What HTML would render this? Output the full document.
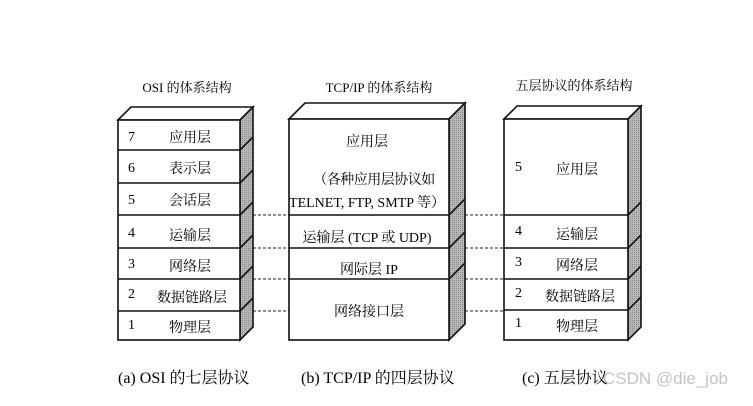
<!DOCTYPE html>
<html><head><meta charset="utf-8"><style>
body{margin:0;background:#fff}
svg text{font-family:"Liberation Serif","Noto Serif CJK SC","Noto Sans CJK SC",serif;fill:#000}
</style></head><body>
<svg width="753" height="401" viewBox="0 0 753 401" xmlns="http://www.w3.org/2000/svg">
<defs><pattern id="g" width="2" height="2" patternUnits="userSpaceOnUse"><rect width="2" height="2" fill="#b8b8b8"/><rect width="1" height="1" fill="#8a8a8a"/></pattern></defs>
<g font-size="13" text-anchor="middle">
<text x="187" y="92">OSI 的体系结构</text>
<text x="379" y="92">TCP/IP 的体系结构</text>
<text x="574" y="90">五层协议的体系结构</text>
</g>
<g stroke="#222" stroke-width="1" stroke-dasharray="3,2">
<line x1="253" y1="215" x2="289" y2="215"/><line x1="253" y1="248" x2="289" y2="248"/><line x1="253" y1="279" x2="289" y2="279"/><line x1="253" y1="311" x2="289" y2="311"/>
<line x1="465" y1="215" x2="504" y2="215"/><line x1="465" y1="248" x2="504" y2="248"/><line x1="465" y1="279" x2="504" y2="279"/><line x1="465" y1="311" x2="504" y2="311"/>
</g>
<g stroke="#111" stroke-width="1.6" fill="#fff">
<polygon points="118,120 131,107 253,107 240,120"/>
<polygon points="240,120 253,107 253,327 240,340" fill="url(#g)"/>
<rect x="118" y="120" width="122" height="220"/>
<line x1="118" y1="150" x2="240" y2="150"/><line x1="118" y1="183" x2="240" y2="183"/><line x1="118" y1="215" x2="240" y2="215"/><line x1="118" y1="248" x2="240" y2="248"/><line x1="118" y1="279" x2="240" y2="279"/><line x1="118" y1="311" x2="240" y2="311"/>
<line x1="240" y1="150" x2="253" y2="137"/><line x1="240" y1="183" x2="253" y2="170"/><line x1="240" y1="215" x2="253" y2="202"/><line x1="240" y1="248" x2="253" y2="235"/><line x1="240" y1="279" x2="253" y2="266"/><line x1="240" y1="311" x2="253" y2="298"/>
<polygon points="289,119 305,103 465,103 449,119"/>
<polygon points="449,119 465,103 465,324 449,340" fill="url(#g)"/>
<rect x="289" y="119" width="160" height="221"/>
<line x1="289" y1="215" x2="449" y2="215"/><line x1="289" y1="248" x2="449" y2="248"/><line x1="289" y1="279" x2="449" y2="279"/>
<line x1="449" y1="215" x2="465" y2="199"/><line x1="449" y1="248" x2="465" y2="232"/><line x1="449" y1="279" x2="465" y2="263"/>
<polygon points="504,119 517,106 641,106 628,119"/>
<polygon points="628,119 641,106 641,327 628,340" fill="url(#g)"/>
<rect x="504" y="119" width="124" height="221"/>
<line x1="504" y1="215" x2="628" y2="215"/><line x1="504" y1="248" x2="628" y2="248"/><line x1="504" y1="279" x2="628" y2="279"/><line x1="504" y1="310" x2="628" y2="310"/>
<line x1="628" y1="215" x2="641" y2="202"/><line x1="628" y1="248" x2="641" y2="235"/><line x1="628" y1="279" x2="641" y2="266"/><line x1="628" y1="310" x2="641" y2="297"/>
</g>
<g font-size="14">
<text x="128" y="141">7</text><text x="128" y="172">6</text><text x="128" y="204">5</text><text x="128" y="237">4</text><text x="128" y="268">3</text><text x="128" y="298">2</text><text x="128" y="329">1</text>
<text x="515" y="171">5</text><text x="515" y="235">4</text><text x="515" y="266">3</text><text x="515" y="297">2</text><text x="515" y="327">1</text>
</g>
<g font-size="14" text-anchor="middle">
<text x="190" y="142">应用层</text><text x="190" y="173">表示层</text><text x="190" y="205">会话层</text><text x="190" y="240">运输层</text><text x="190" y="271">网络层</text><text x="192" y="302">数据链路层</text><text x="190" y="332">物理层</text>
<text x="367" y="146">应用层</text><text x="374" y="184" letter-spacing="-0.5">（各种应用层协议如</text><text x="367" y="207">TELNET, FTP, SMTP 等）</text>
<text x="367" y="242">运输层 (TCP 或 UDP)</text><text x="369" y="274">网际层 IP</text><text x="369" y="316">网络接口层</text>
<text x="577" y="174">应用层</text><text x="577" y="239">运输层</text><text x="577" y="270">网络层</text><text x="580" y="301">数据链路层</text><text x="577" y="331">物理层</text>
</g>
<g font-size="16">
<text x="118" y="383">(a) OSI 的七层协议</text>
<text x="301" y="383">(b) TCP/IP 的四层协议</text>
<text x="522" y="383">(c) 五层协议</text>
</g>
<text x="603" y="384" font-size="17" style="font-family:'Liberation Sans',sans-serif;fill:#c4c4c4">CSDN @die_job</text>
</svg>
</body></html>
